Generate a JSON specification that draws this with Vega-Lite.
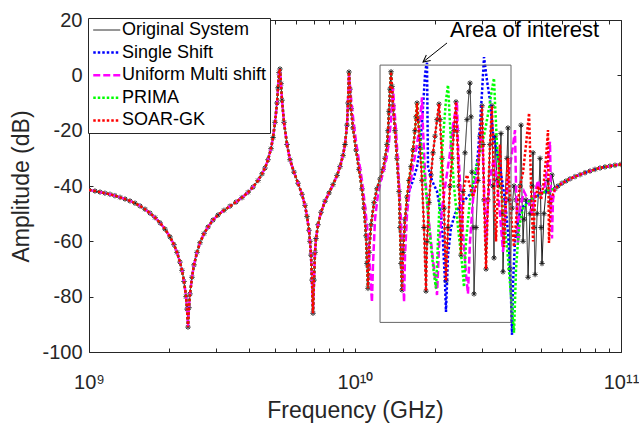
{
  "$schema": "https://vega.github.io/schema/vega-lite/v6.json",
  "width": 532,
  "height": 332,
  "autosize": {"type": "none"},
  "padding": {"left": 89, "top": 20, "right": 18, "bottom": 73},
  "background": "white",
  "config": {
    "view": {"stroke": null},
    "font": "Liberation Sans",
    "axis": {
      "labelFont": "Liberation Sans",
      "titleFont": "Liberation Sans",
      "labelFontSize": 20,
      "titleFontSize": 23,
      "titleFontWeight": "normal",
      "labelColor": "#262626",
      "titleColor": "#262626",
      "domainColor": "#262626",
      "tickColor": "#262626",
      "domainWidth": 1,
      "tickWidth": 1,
      "tickSize": -4,
      "grid": false,
      "labelFlush": false,
      "labelOverlap": false
    }
  },
  "data": {
    "values": [
      {"f": 1e9, "db": -41.4, "m": ["O","S","U","P","R"]},
      {"f": 1.053e9, "db": -41.8, "m": ["O","S","U","P","R"]},
      {"f": 1.1e9, "db": -42.2, "m": ["O","S","U","P","R"]},
      {"f": 1.148e9, "db": -42.6, "m": ["O","S","U","P","R"]},
      {"f": 1.199e9, "db": -43, "m": ["O","S","U","P","R"]},
      {"f": 1.252e9, "db": -43.5, "m": ["O","S","U","P","R"]},
      {"f": 1.308e9, "db": -44.1, "m": ["O","S","U","P","R"]},
      {"f": 1.366e9, "db": -44.7, "m": ["O","S","U","P","R"]},
      {"f": 1.426e9, "db": -45.4, "m": ["O","S","U","P","R"]},
      {"f": 1.489e9, "db": -46.2, "m": ["O","S","U","P","R"]},
      {"f": 1.555e9, "db": -47.2, "m": ["O","S","U","P","R"]},
      {"f": 1.624e9, "db": -48.4, "m": ["O","S","U","P","R"]},
      {"f": 1.695e9, "db": -49.8, "m": ["O","S","U","P","R"]},
      {"f": 1.771e9, "db": -51.4, "m": ["O","S","U","P","R"]},
      {"f": 1.849e9, "db": -53.3, "m": ["O","S","U","P","R"]},
      {"f": 1.931e9, "db": -55.6, "m": ["O","S","U","P","R"]},
      {"f": 2.016e9, "db": -58.4, "m": ["O","S","U","P","R"]},
      {"f": 2.087e9, "db": -61.2, "m": ["O","S","U","P","R"]},
      {"f": 2.142e9, "db": -64, "m": ["O","S","U","P","R"]},
      {"f": 2.198e9, "db": -67.5, "m": ["O","S","U","P","R"]},
      {"f": 2.237e9, "db": -70.5, "m": ["O","S","U","P","R"]},
      {"f": 2.276e9, "db": -74.5, "m": ["O","S","U","P","R"]},
      {"f": 2.316e9, "db": -80, "m": ["O","S","U","P","R"]},
      {"f": 2.336e9, "db": -84.5, "m": ["O","S","U","P","R"]},
      {"f": 2.356e9, "db": -91, "m": ["O","S","U","P","R"]},
      {"f": 2.376e9, "db": -84, "m": ["O","S","U","P","R"]},
      {"f": 2.397e9, "db": -79, "m": ["O","S","U","P","R"]},
      {"f": 2.439e9, "db": -73, "m": ["O","S","U","P","R"]},
      {"f": 2.482e9, "db": -68.5, "m": ["O","S","U","P","R"]},
      {"f": 2.547e9, "db": -64, "m": ["O","S","U","P","R"]},
      {"f": 2.614e9, "db": -60.5, "m": ["O","S","U","P","R"]},
      {"f": 2.706e9, "db": -57.2, "m": ["O","S","U","P","R"]},
      {"f": 2.802e9, "db": -54.8, "m": ["O","S","U","P","R"]},
      {"f": 2.925e9, "db": -52.3, "m": ["O","S","U","P","R"]},
      {"f": 3.054e9, "db": -50.5, "m": ["O","S","U","P","R"]},
      {"f": 3.217e9, "db": -48.8, "m": ["O","S","U","P","R"]},
      {"f": 3.389e9, "db": -47.3, "m": ["O","S","U","P","R"]},
      {"f": 3.57e9, "db": -45.8, "m": ["O","S","U","P","R"]},
      {"f": 3.76e9, "db": -44.2, "m": ["O","S","U","P","R"]},
      {"f": 3.961e9, "db": -42.3, "m": ["O","S","U","P","R"]},
      {"f": 4.136e9, "db": -40.4, "m": ["O","S","U","P","R"]},
      {"f": 4.319e9, "db": -38, "m": ["O","S","U","P","R"]},
      {"f": 4.472e9, "db": -35.6, "m": ["O","S","U","P","R"]},
      {"f": 4.589e9, "db": -33.5, "m": ["O","S","U","P","R"]},
      {"f": 4.71e9, "db": -30.5, "m": ["O","S","U","P","R"]},
      {"f": 4.833e9, "db": -26.5, "m": ["O","S","U","P","R"]},
      {"f": 4.918e9, "db": -22.5, "m": ["O","S","U","P","R"]},
      {"f": 5.004e9, "db": -17, "m": ["O","S","U","P","R"]},
      {"f": 5.091e9, "db": -10, "m": ["O","S","U","P","R"]},
      {"f": 5.135e9, "db": -4.5, "m": ["O","S","U","P","R"]},
      {"f": 5.18e9, "db": 1, "m": ["O","S","U","P","R"]},
      {"f": 5.224e9, "db": 2.3, "m": ["O","S","U","P","R"]},
      {"f": 5.27e9, "db": -3, "m": ["O","S","U","P","R"]},
      {"f": 5.316e9, "db": -9, "m": ["O","S","U","P","R"]},
      {"f": 5.409e9, "db": -17, "m": ["O","S","U","P","R"]},
      {"f": 5.552e9, "db": -25, "m": ["O","S","U","P","R"]},
      {"f": 5.696e9, "db": -30.5, "m": ["O","S","U","P","R"]},
      {"f": 5.897e9, "db": -35, "m": ["O","S","U","P","R"]},
      {"f": 6.105e9, "db": -39, "m": ["O","S","U","P","R"]},
      {"f": 6.321e9, "db": -43, "m": ["O","S","U","P","R"]},
      {"f": 6.486e9, "db": -47, "m": ["O","S","U","P","R"]},
      {"f": 6.6e9, "db": -51, "m": ["O","S","U","P","R"]},
      {"f": 6.715e9, "db": -56, "m": ["O","S","U","P","R"]},
      {"f": 6.773e9, "db": -60, "m": ["O","S","U","P","R"]},
      {"f": 6.832e9, "db": -65, "m": ["O","S","U","P","R"]},
      {"f": 6.891e9, "db": -74, "m": ["O","S","U","P","R"]},
      {"f": 6.951e9, "db": -86, "m": ["O","S","U","P","R"]},
      {"f": 7.013e9, "db": -74, "m": ["O","S","U","P","R"]},
      {"f": 7.074e9, "db": -64, "m": ["O","S","U","P","R"]},
      {"f": 7.135e9, "db": -59, "m": ["O","S","U","P","R"]},
      {"f": 7.26e9, "db": -54, "m": ["O","S","U","P","R"]},
      {"f": 7.451e9, "db": -49.5, "m": ["O","S","U","P","R"]},
      {"f": 7.716e9, "db": -45.5, "m": ["O","S","U","P","R"]},
      {"f": 7.985e9, "db": -42.5, "m": ["O","S","U","P","R"]},
      {"f": 8.266e9, "db": -39.5, "m": ["O","S","U","P","R"]},
      {"f": 8.557e9, "db": -36.2, "m": ["O","S","U","P","R"]},
      {"f": 8.782e9, "db": -33, "m": ["O","S","U","P","R"]},
      {"f": 9.013e9, "db": -29, "m": ["O","S","U","P","R"]},
      {"f": 9.171e9, "db": -25, "m": ["O","S","U","P","R"]},
      {"f": 9.331e9, "db": -18, "m": ["O","S","U","P","R"]},

      {"f": 9.412e9, "db": -10, "m": ["O","S","P","R"]},
      {"f": 9.494e9, "db": 1.2, "m": ["O","S","P","R"]},
      {"f": 9.576e9, "db": -5, "m": ["O","S","P","R"]},
      {"f": 9.66e9, "db": -12, "m": ["O","S","P","R"]},
      {"f": 9.828e9, "db": -19, "m": ["O","S","P","R"]},
      {"f": 1.009e10, "db": -27, "m": ["O","S","P","R"]},
      {"f": 1.035e10, "db": -34, "m": ["O","S","P","R"]},
      {"f": 1.062e10, "db": -41, "m": ["O","S","P","R"]},
      {"f": 1.081e10, "db": -48, "m": ["O","S","P","R"]},
      {"f": 1.1e10, "db": -58, "m": ["O","S","P","R"]},
      {"f": 1.109e10, "db": -68, "m": ["O","S","P","R"]},
      {"f": 1.119e10, "db": -77, "m": ["O","S","P","R"]},
      {"f": 1.129e10, "db": -64, "m": ["O","S","P","R"]},
      {"f": 1.149e10, "db": -54, "m": ["O","S","P","R"]},
      {"f": 1.179e10, "db": -46, "m": ["O","S","P","R"]},
      {"f": 1.209e10, "db": -41, "m": ["O","S","P","R"]},
      {"f": 1.242e10, "db": -37.5, "m": ["O","S","P","R"]},
      {"f": 1.274e10, "db": -34, "m": ["O","S","P","R"]},
      {"f": 1.297e10, "db": -30, "m": ["O","S","P","R"]},
      {"f": 1.319e10, "db": -25, "m": ["O","S","P","R"]},
      {"f": 1.331e10, "db": -20, "m": ["O","S","P","R"]},
      {"f": 1.342e10, "db": -13, "m": ["O","S","P","R"]},
      {"f": 1.354e10, "db": -5, "m": ["O","S","P","R"]},
      {"f": 1.366e10, "db": 1.3, "m": ["O","S","P","R"]},
      {"f": 1.378e10, "db": -4, "m": ["O","S","P","R"]},
      {"f": 1.39e10, "db": -11, "m": ["O","S","P","R"]},
      {"f": 1.414e10, "db": -20, "m": ["O","S","P","R"]},
      {"f": 1.438e10, "db": -30, "m": ["O","S","P","R"]},
      {"f": 1.464e10, "db": -42, "m": ["O","S","P","R"]},
      {"f": 1.476e10, "db": -55, "m": ["O","S","P","R"]},
      {"f": 1.489e10, "db": -68, "m": ["O","S","P","R"]},
      {"f": 1.502e10, "db": -77.6, "m": ["O","S","P","R"]},
      {"f": 1.515e10, "db": -64, "m": ["O","S","P","R"]},
      {"f": 1.542e10, "db": -52, "m": ["O","S","P","R"]},

      {"f": 1.569e10, "db": -44, "m": ["O","P","R"]},
      {"f": 1.596e10, "db": -38, "m": ["O","P","R"]},
      {"f": 1.624e10, "db": -33, "m": ["O","P","R"]},
      {"f": 1.652e10, "db": -27, "m": ["O","P","R"]},
      {"f": 1.681e10, "db": -20, "m": ["O","P","R"]},
      {"f": 1.696e10, "db": -15, "m": ["O","P","R"]},
      {"f": 1.711e10, "db": -10, "m": ["O","P","R"]},

      {"f": 1.725e10, "db": -16, "m": ["O","R"]},
      {"f": 1.756e10, "db": -26, "m": ["O","R"]},
      {"f": 1.786e10, "db": -38, "m": ["O","R"]},
      {"f": 1.817e10, "db": -55, "m": ["O","R"]},
      {"f": 1.849e10, "db": -78, "m": ["O","R"]},
      {"f": 1.865e10, "db": -60, "m": ["O","R"]},
      {"f": 1.897e10, "db": -46, "m": ["O","R"]},
      {"f": 1.931e10, "db": -36, "m": ["O","R"]},
      {"f": 1.965e10, "db": -28, "m": ["O","R"]},
      {"f": 1.999e10, "db": -22, "m": ["O","R"]},
      {"f": 2.034e10, "db": -16, "m": ["O","R"]},
      {"f": 2.069e10, "db": -10.4, "m": ["O","R"]},
      {"f": 2.087e10, "db": -16, "m": ["O","R"]},
      {"f": 2.124e10, "db": -30, "m": ["O","R"]},
      {"f": 2.161e10, "db": -48, "m": ["O","R"]},
      {"f": 2.198e10, "db": -74.3, "m": ["O","R"]},
      {"f": 2.237e10, "db": -55, "m": ["O","R"]},
      {"f": 2.276e10, "db": -40, "m": ["O","R"]},
      {"f": 2.316e10, "db": -30, "m": ["O","R"]},
      {"f": 2.356e10, "db": -20, "m": ["O","R"]},
      {"f": 2.397e10, "db": -9.6, "m": ["O","R"]},
      {"f": 2.418e10, "db": -20, "m": ["O","R"]},
      {"f": 2.46e10, "db": -40, "m": ["O","R"]},
      {"f": 2.503e10, "db": -65, "m": ["O","R"]},

      {"f": 2.547e10, "db": -42, "m": ["O"]},
      {"f": 2.591e10, "db": -28, "m": ["O"]},
      {"f": 2.637e10, "db": -16, "m": ["O"]},
      {"f": 2.683e10, "db": -6, "m": ["O"]},
      {"f": 2.706e10, "db": -2.8, "m": ["O"]},
      {"f": 2.73e10, "db": -15, "m": ["O"]},
      {"f": 2.753e10, "db": -35, "m": ["O"]},
      {"f": 2.777e10, "db": -55, "m": ["O"]},
      {"f": 2.802e10, "db": -79, "m": ["O"]},
      {"f": 2.851e10, "db": -55, "m": ["O"]},

      {"f": 2.569e10, "db": -40, "m": ["R"]},
      {"f": 2.637e10, "db": -36, "m": ["R"]},
      {"f": 2.706e10, "db": -40, "m": ["R"]},
      {"f": 2.777e10, "db": -44, "m": ["R"]},
      {"f": 2.851e10, "db": -40, "m": ["R"]},

      {"f": 2.9e10, "db": -38, "m": ["O","R"]},
      {"f": 2.951e10, "db": -22, "m": ["O","R"]},
      {"f": 3.003e10, "db": -11, "m": ["O","R"]},
      {"f": 3.029e10, "db": -25, "m": ["O","R"]},
      {"f": 3.055e10, "db": -45, "m": ["O","R"]},
      {"f": 3.109e10, "db": -70, "m": ["O","R"]},
      {"f": 3.162e10, "db": -45, "m": ["O","R"]},
      {"f": 3.217e10, "db": -25, "m": ["O","R"]},
      {"f": 3.273e10, "db": -11, "m": ["O","R"]},

      {"f": 3.302e10, "db": -40, "m": ["O"]},
      {"f": 3.331e10, "db": -66, "m": ["O"]},
      {"f": 3.36e10, "db": -22, "m": ["O"]},
      {"f": 3.418e10, "db": -38, "m": ["O"]},
      {"f": 3.478e10, "db": -40, "m": ["O"]},
      {"f": 3.539e10, "db": -21, "m": ["O"]},
      {"f": 3.569e10, "db": -50, "m": ["O"]},
      {"f": 3.601e10, "db": -71, "m": ["O"]},
      {"f": 3.664e10, "db": -45, "m": ["O"]},
      {"f": 3.728e10, "db": -30, "m": ["O"]},
      {"f": 3.76e10, "db": -19, "m": ["O"]},
      {"f": 3.793e10, "db": -45, "m": ["O"]},
      {"f": 3.826e10, "db": -70, "m": ["O"]},
      {"f": 3.893e10, "db": -48, "m": ["O"]},
      {"f": 3.961e10, "db": -40, "m": ["O"]},
      {"f": 4.03e10, "db": -45, "m": ["O"]},
      {"f": 4.101e10, "db": -58, "m": ["O"]},
      {"f": 4.173e10, "db": -40, "m": ["O"]},
      {"f": 4.209e10, "db": -18, "m": ["O"]},
      {"f": 4.246e10, "db": -45, "m": ["O"]},
      {"f": 4.283e10, "db": -60, "m": ["O"]},
      {"f": 4.32e10, "db": -52, "m": ["O"]},
      {"f": 4.396e10, "db": -45, "m": ["O"]},
      {"f": 4.473e10, "db": -73, "m": ["O"]},
      {"f": 4.551e10, "db": -50, "m": ["O"]},
      {"f": 4.631e10, "db": -40, "m": ["O"]},
      {"f": 4.671e10, "db": -28, "m": ["O"]},
      {"f": 4.712e10, "db": -55, "m": ["O"]},
      {"f": 4.753e10, "db": -72, "m": ["O"]},
      {"f": 4.836e10, "db": -50, "m": ["O"]},
      {"f": 4.92e10, "db": -40, "m": ["O"]},
      {"f": 4.963e10, "db": -30, "m": ["O"]},
      {"f": 5.005e10, "db": -55, "m": ["O"]},
      {"f": 5.047e10, "db": -68, "m": ["O"]},
      {"f": 5.135e10, "db": -50, "m": ["O"]},
      {"f": 5.224e10, "db": -42, "m": ["O"]},
      {"f": 5.315e10, "db": -38, "m": ["O"]},
      {"f": 5.408e10, "db": -46, "m": ["O"]},
      {"f": 5.502e10, "db": -36, "m": ["O"]},

      {"f": 1.596e10, "db": -42, "m": ["S"]},
      {"f": 1.652e10, "db": -38, "m": ["S"]},
      {"f": 1.711e10, "db": -33, "m": ["S"]},
      {"f": 1.756e10, "db": -26, "m": ["S"]},
      {"f": 1.786e10, "db": -17, "m": ["S"]},
      {"f": 1.817e10, "db": -6, "m": ["S"]},
      {"f": 1.833e10, "db": 0, "m": ["S"]},
      {"f": 1.849e10, "db": 3, "m": ["S"]},
      {"f": 1.865e10, "db": 4.5, "m": ["S"]},
      {"f": 1.881e10, "db": -33, "m": ["S"]},
      {"f": 1.947e10, "db": -38, "m": ["S"]},
      {"f": 2.034e10, "db": -42, "m": ["S"]},
      {"f": 2.105e10, "db": -50, "m": ["S"]},
      {"f": 2.142e10, "db": -60, "m": ["S"]},
      {"f": 2.18e10, "db": -75, "m": ["S"]},
      {"f": 2.198e10, "db": -85.5, "m": ["S"]},
      {"f": 2.237e10, "db": -65, "m": ["S"]},
      {"f": 2.296e10, "db": -55, "m": ["S"]},
      {"f": 2.377e10, "db": -50, "m": ["S"]},
      {"f": 2.481e10, "db": -47, "m": ["S"]},
      {"f": 2.591e10, "db": -45, "m": ["S"]},
      {"f": 2.706e10, "db": -43, "m": ["S"]},
      {"f": 2.826e10, "db": -38, "m": ["S"]},
      {"f": 2.9e10, "db": -28, "m": ["S"]},
      {"f": 2.951e10, "db": -18, "m": ["S"]},
      {"f": 3.003e10, "db": -6, "m": ["S"]},
      {"f": 3.055e10, "db": 6.6, "m": ["S"]},
      {"f": 3.136e10, "db": -2, "m": ["S"]},
      {"f": 3.217e10, "db": -9, "m": ["S"]},
      {"f": 3.302e10, "db": -21, "m": ["S"]},
      {"f": 3.418e10, "db": -28, "m": ["S"]},
      {"f": 3.508e10, "db": -33, "m": ["S"]},
      {"f": 3.664e10, "db": -45, "m": ["S"]},
      {"f": 3.76e10, "db": -57, "m": ["S"]},
      {"f": 3.826e10, "db": -69, "m": ["S"]},
      {"f": 3.859e10, "db": -80, "m": ["S"]},
      {"f": 3.893e10, "db": -93.8, "m": ["S"]},
      {"f": 3.927e10, "db": -75, "m": ["S"]},
      {"f": 3.995e10, "db": -60, "m": ["S"]},
      {"f": 4.101e10, "db": -52, "m": ["S"]},
      {"f": 4.246e10, "db": -48, "m": ["S"]},
      {"f": 4.434e10, "db": -46, "m": ["S"]},
      {"f": 4.671e10, "db": -44.5, "m": ["S"]},
      {"f": 4.963e10, "db": -43, "m": ["S"]},
      {"f": 5.27e10, "db": -42, "m": ["S"]},

      {"f": 1.74e10, "db": -18, "m": ["P"]},
      {"f": 1.786e10, "db": -28, "m": ["P"]},
      {"f": 1.833e10, "db": -38, "m": ["P"]},
      {"f": 1.881e10, "db": -50, "m": ["P"]},
      {"f": 1.931e10, "db": -62, "m": ["P"]},
      {"f": 1.982e10, "db": -72, "m": ["P"]},
      {"f": 2.016e10, "db": -77, "m": ["P"]},
      {"f": 2.051e10, "db": -60, "m": ["P"]},
      {"f": 2.087e10, "db": -42, "m": ["P"]},
      {"f": 2.124e10, "db": -28, "m": ["P"]},
      {"f": 2.161e10, "db": -18, "m": ["P"]},
      {"f": 2.198e10, "db": -9, "m": ["P"]},
      {"f": 2.237e10, "db": -3.5, "m": ["P"]},
      {"f": 2.256e10, "db": -10, "m": ["P"]},
      {"f": 2.296e10, "db": -25, "m": ["P"]},
      {"f": 2.356e10, "db": -40, "m": ["P"]},
      {"f": 2.439e10, "db": -55, "m": ["P"]},
      {"f": 2.525e10, "db": -68, "m": ["P"]},
      {"f": 2.569e10, "db": -76.5, "m": ["P"]},
      {"f": 2.614e10, "db": -60, "m": ["P"]},
      {"f": 2.706e10, "db": -45, "m": ["P"]},
      {"f": 2.826e10, "db": -35, "m": ["P"]},
      {"f": 2.951e10, "db": -28, "m": ["P"]},
      {"f": 3.082e10, "db": -20, "m": ["P"]},
      {"f": 3.19e10, "db": -12, "m": ["P"]},
      {"f": 3.273e10, "db": -5, "m": ["P"]},
      {"f": 3.331e10, "db": -1, "m": ["P"]},
      {"f": 3.36e10, "db": -10, "m": ["P"]},
      {"f": 3.418e10, "db": -25, "m": ["P"]},
      {"f": 3.508e10, "db": -38, "m": ["P"]},
      {"f": 3.632e10, "db": -52, "m": ["P"]},
      {"f": 3.76e10, "db": -66, "m": ["P"]},
      {"f": 3.859e10, "db": -80, "m": ["P"]},
      {"f": 3.961e10, "db": -93, "m": ["P"]},
      {"f": 4.03e10, "db": -70, "m": ["P"]},
      {"f": 4.136e10, "db": -55, "m": ["P"]},
      {"f": 4.283e10, "db": -48, "m": ["P"]},
      {"f": 4.551e10, "db": -45, "m": ["P"]},
      {"f": 4.963e10, "db": -43, "m": ["P"]},
      {"f": 5.315e10, "db": -41.5, "m": ["P"]},

      {"f": 9.494e9, "db": 0.5, "m": ["U"]},
      {"f": 9.66e9, "db": -8, "m": ["U"]},
      {"f": 9.828e9, "db": -15, "m": ["U"]},
      {"f": 1.009e10, "db": -24, "m": ["U"]},
      {"f": 1.035e10, "db": -31, "m": ["U"]},
      {"f": 1.062e10, "db": -38, "m": ["U"]},
      {"f": 1.09e10, "db": -47, "m": ["U"]},
      {"f": 1.119e10, "db": -58, "m": ["U"]},
      {"f": 1.138e10, "db": -70, "m": ["U"]},
      {"f": 1.158e10, "db": -82, "m": ["U"]},
      {"f": 1.169e10, "db": -68, "m": ["U"]},
      {"f": 1.189e10, "db": -52, "m": ["U"]},
      {"f": 1.22e10, "db": -43, "m": ["U"]},
      {"f": 1.252e10, "db": -38, "m": ["U"]},
      {"f": 1.285e10, "db": -34, "m": ["U"]},
      {"f": 1.319e10, "db": -29, "m": ["U"]},
      {"f": 1.342e10, "db": -24, "m": ["U"]},
      {"f": 1.366e10, "db": -16, "m": ["U"]},
      {"f": 1.39e10, "db": -4.6, "m": ["U"]},
      {"f": 1.401e10, "db": -10, "m": ["U"]},
      {"f": 1.426e10, "db": -20, "m": ["U"]},
      {"f": 1.451e10, "db": -32, "m": ["U"]},
      {"f": 1.476e10, "db": -45, "m": ["U"]},
      {"f": 1.502e10, "db": -60, "m": ["U"]},
      {"f": 1.529e10, "db": -82, "m": ["U"]},
      {"f": 1.542e10, "db": -65, "m": ["U"]},
      {"f": 1.569e10, "db": -50, "m": ["U"]},
      {"f": 1.61e10, "db": -40, "m": ["U"]},
      {"f": 1.652e10, "db": -33, "m": ["U"]},
      {"f": 1.696e10, "db": -27, "m": ["U"]},
      {"f": 1.74e10, "db": -20, "m": ["U"]},
      {"f": 1.786e10, "db": -8, "m": ["U"]},
      {"f": 1.802e10, "db": -20, "m": ["U"]},
      {"f": 1.833e10, "db": -35, "m": ["U"]},
      {"f": 1.881e10, "db": -50, "m": ["U"]},
      {"f": 1.931e10, "db": -60, "m": ["U"]},
      {"f": 1.982e10, "db": -70, "m": ["U"]},
      {"f": 2.034e10, "db": -79.4, "m": ["U"]},
      {"f": 2.069e10, "db": -62, "m": ["U"]},
      {"f": 2.124e10, "db": -48, "m": ["U"]},
      {"f": 2.198e10, "db": -38, "m": ["U"]},
      {"f": 2.276e10, "db": -28, "m": ["U"]},
      {"f": 2.336e10, "db": -18, "m": ["U"]},
      {"f": 2.418e10, "db": -9.6, "m": ["U"]},
      {"f": 2.439e10, "db": -25, "m": ["U"]},
      {"f": 2.503e10, "db": -45, "m": ["U"]},
      {"f": 2.569e10, "db": -62, "m": ["U"]},
      {"f": 2.614e10, "db": -72, "m": ["U"]},
      {"f": 2.659e10, "db": -79, "m": ["U"]},
      {"f": 2.706e10, "db": -60, "m": ["U"]},
      {"f": 2.777e10, "db": -45, "m": ["U"]},
      {"f": 2.875e10, "db": -35, "m": ["U"]},
      {"f": 2.951e10, "db": -25, "m": ["U"]},
      {"f": 3.003e10, "db": -20, "m": ["U"]},
      {"f": 3.055e10, "db": -40, "m": ["U"]},
      {"f": 3.109e10, "db": -60, "m": ["U"]},
      {"f": 3.162e10, "db": -45, "m": ["U"]},
      {"f": 3.245e10, "db": -35, "m": ["U"]},
      {"f": 3.331e10, "db": -30, "m": ["U"]},
      {"f": 3.418e10, "db": -38, "m": ["U"]},
      {"f": 3.508e10, "db": -50, "m": ["U"]},
      {"f": 3.601e10, "db": -63.8, "m": ["U"]},
      {"f": 3.696e10, "db": -45, "m": ["U"]},
      {"f": 3.793e10, "db": -35, "m": ["U"]},
      {"f": 3.893e10, "db": -28, "m": ["U"]},
      {"f": 3.995e10, "db": -19.8, "m": ["U"]},
      {"f": 4.03e10, "db": -40, "m": ["U"]},
      {"f": 4.101e10, "db": -61, "m": ["U"]},
      {"f": 4.173e10, "db": -48, "m": ["U"]},
      {"f": 4.32e10, "db": -42, "m": ["U"]},
      {"f": 4.473e10, "db": -45, "m": ["U"]},
      {"f": 4.631e10, "db": -50, "m": ["U"]},
      {"f": 4.753e10, "db": -42, "m": ["U"]},
      {"f": 4.878e10, "db": -38, "m": ["U"]},
      {"f": 5.005e10, "db": -43, "m": ["U"]},
      {"f": 5.179e10, "db": -40, "m": ["U"]},
      {"f": 5.315e10, "db": -30, "m": ["U"]},
      {"f": 5.408e10, "db": -24, "m": ["U"]},
      {"f": 5.455e10, "db": -45, "m": ["U"]},
      {"f": 5.502e10, "db": -59, "m": ["U"]},
      {"f": 5.55e10, "db": -45, "m": ["U"]},

      {"f": 3.331e10, "db": -40, "m": ["R"]},
      {"f": 3.389e10, "db": -60, "m": ["R"]},
      {"f": 3.448e10, "db": -40, "m": ["R"]},
      {"f": 3.508e10, "db": -25, "m": ["R"]},
      {"f": 3.569e10, "db": -45, "m": ["R"]},
      {"f": 3.632e10, "db": -62, "m": ["R"]},
      {"f": 3.696e10, "db": -45, "m": ["R"]},
      {"f": 3.76e10, "db": -30, "m": ["R"]},
      {"f": 3.859e10, "db": -50, "m": ["R"]},
      {"f": 3.961e10, "db": -62, "m": ["R"]},
      {"f": 4.065e10, "db": -48, "m": ["R"]},
      {"f": 4.173e10, "db": -40, "m": ["R"]},
      {"f": 4.283e10, "db": -35, "m": ["R"]},
      {"f": 4.396e10, "db": -25, "m": ["R"]},
      {"f": 4.512e10, "db": -13.6, "m": ["R"]},
      {"f": 4.591e10, "db": -40, "m": ["R"]},
      {"f": 4.671e10, "db": -60, "m": ["R"]},
      {"f": 4.753e10, "db": -45, "m": ["R"]},
      {"f": 4.878e10, "db": -40, "m": ["R"]},
      {"f": 5.005e10, "db": -45, "m": ["R"]},
      {"f": 5.135e10, "db": -38, "m": ["R"]},
      {"f": 5.224e10, "db": -30, "m": ["R"]},
      {"f": 5.315e10, "db": -19.8, "m": ["R"]},
      {"f": 5.361e10, "db": -60.6, "m": ["R"]},
      {"f": 5.455e10, "db": -45, "m": ["R"]},

      {"f": 5.648e10, "db": -41, "m": ["O","S","U","P","R"]},
      {"f": 5.799e10, "db": -40, "m": ["O","S","U","P","R"]},
      {"f": 6.0e10, "db": -39, "m": ["O","S","U","P","R"]},
      {"f": 6.213e10, "db": -38.2, "m": ["O","S","U","P","R"]},
      {"f": 6.432e10, "db": -37.4, "m": ["O","S","U","P","R"]},
      {"f": 6.715e10, "db": -36.6, "m": ["O","S","U","P","R"]},
      {"f": 7.015e10, "db": -35.9, "m": ["O","S","U","P","R"]},
      {"f": 7.323e10, "db": -35.2, "m": ["O","S","U","P","R"]},
      {"f": 7.647e10, "db": -34.6, "m": ["O","S","U","P","R"]},
      {"f": 7.986e10, "db": -34, "m": ["O","S","U","P","R"]},
      {"f": 8.339e10, "db": -33.5, "m": ["O","S","U","P","R"]},
      {"f": 8.706e10, "db": -33.1, "m": ["O","S","U","P","R"]},
      {"f": 9.091e10, "db": -32.8, "m": ["O","S","U","P","R"]},
      {"f": 9.493e10, "db": -32.5, "m": ["O","S","U","P","R"]},
      {"f": 1e11, "db": -32.2, "m": ["O","S","U","P","R"]}
    ]
  },
  "layer": [
    {
      "transform": [{"flatten": ["m"]}, {"filter": "datum.m == 'O'"}],
      "mark": {"type": "line", "clip": true, "strokeCap": "butt"},
      "encoding": {
        "x": {
          "field": "f", "type": "quantitative",
          "scale": {"type": "log", "domain": [1e9, 1e11], "nice": false},
          "axis": {
            "orient": "bottom",
            "values": [1e9, 2e9, 3e9, 4e9, 5e9, 6e9, 7e9, 8e9, 9e9, 1e10, 2e10, 3e10, 4e10, 5e10, 6e10, 7e10, 8e10, 9e10, 1e11],
            "labelExpr": "datum.value == 1e9 ? '10⁹' : datum.value == 1e10 ? '10¹⁰' : datum.value == 1e11 ? '10¹¹' : ''",
            "labelPadding": 24,
            "title": "Frequency (GHz)",
            "titlePadding": 7
          }
        },
        "y": {
          "field": "db", "type": "quantitative",
          "scale": {"domain": [-100, 20], "nice": false, "zero": false},
          "axis": {
            "orient": "left",
            "values": [-100, -80, -60, -40, -20, 0, 20],
            "labelExpr": "(datum.value < 0 ? '-' : '') + abs(datum.value)",
            "labelPadding": 11,
            "title": "Amplitude (dB)",
            "titlePadding": 8
          }
        },
        "color": {
          "field": "m", "type": "nominal",
          "scale": {"domain": ["O", "S", "U", "P", "R"], "range": ["#1a1a1a", "#0000ff", "#ff00ff", "#00ff00", "#ff0000"]},
          "legend": {
            "title": null, "orient": "none", "legendX": -1, "legendY": -2,
            "symbolType": "M-1,0H3", "symbolSize": 182, "symbolFillColor": "transparent",
            "labelFont": "Liberation Sans", "labelFontSize": 18, "labelColor": "#000000", "labelLimit": 400,
            "labelOffset": 13, "padding": 3, "rowPadding": 4.6,
            "strokeColor": "#262626", "fillColor": "#ffffff",
            "labelExpr": "datum.value == 'O' ? '\u2005Original System' : datum.value == 'S' ? '\u2005\u2005Single Shift' : datum.value == 'U' ? '\u2005Uniform Multi shift' : datum.value == 'P' ? 'PRIMA' : 'SOAR-GK'"
          }
        },
        "strokeDash": {
          "field": "m", "type": "nominal",
          "scale": {"domain": ["O", "S", "U", "P", "R"], "range": [[1, 0], [2.5, 2], [7, 3], [2.5, 2], [2.5, 2]]},
          "legend": {
            "title": null, "orient": "none", "legendX": -1, "legendY": -2,
            "symbolType": "M-1,0H3", "symbolSize": 182,
            "labelFontSize": 18, "labelLimit": 400, "labelOffset": 13, "padding": 3, "rowPadding": 4.6,
            "labelExpr": "datum.value == 'O' ? '\u2005Original System' : datum.value == 'S' ? '\u2005\u2005Single Shift' : datum.value == 'U' ? '\u2005Uniform Multi shift' : datum.value == 'P' ? 'PRIMA' : 'SOAR-GK'"
          }
        },
        "strokeWidth": {
          "field": "m", "type": "nominal",
          "scale": {"type": "ordinal", "domain": ["O", "S", "U", "P", "R"], "range": [1, 2.5, 2.5, 2.5, 2.5]},
          "legend": {
            "title": null, "orient": "none", "legendX": -1, "legendY": -2,
            "symbolType": "M-1,0H3", "symbolSize": 182,
            "labelFontSize": 18, "labelLimit": 400, "labelOffset": 13, "padding": 3, "rowPadding": 4.6,
            "labelExpr": "datum.value == 'O' ? '\u2005Original System' : datum.value == 'S' ? '\u2005\u2005Single Shift' : datum.value == 'U' ? '\u2005Uniform Multi shift' : datum.value == 'P' ? 'PRIMA' : 'SOAR-GK'"
          }
        }
      }
    },
    {
      "transform": [{"flatten": ["m"]}, {"filter": "datum.m == 'O'"}],
      "mark": {"type": "point", "shape": "M-1,0H1M0,-1V1M-0.7,-0.7L0.7,0.7M-0.7,0.7L0.7,-0.7", "size": 30, "filled": false, "stroke": "#1a1a1a", "strokeWidth": 0.9, "opacity": 1, "clip": true},
      "encoding": {
        "x": {"field": "f", "type": "quantitative", "scale": {"type": "log", "domain": [1e9, 1e11], "nice": false}, "axis": null},
        "y": {"field": "db", "type": "quantitative", "scale": {"domain": [-100, 20], "nice": false, "zero": false}, "axis": null}
      }
    },
    {
      "transform": [{"flatten": ["m"]}, {"filter": "datum.m == 'S'"}],
      "mark": {"type": "line", "clip": true, "strokeCap": "butt"},
      "encoding": {
        "x": {
          "field": "f", "type": "quantitative",
          "scale": {"type": "log", "domain": [1e9, 1e11], "nice": false},
          "axis": {
            "orient": "top", "labels": false, "title": null,
            "values": [1e9, 2e9, 3e9, 4e9, 5e9, 6e9, 7e9, 8e9, 9e9, 1e10, 2e10, 3e10, 4e10, 5e10, 6e10, 7e10, 8e10, 9e10, 1e11]
          }
        },
        "y": {
          "field": "db", "type": "quantitative",
          "scale": {"domain": [-100, 20], "nice": false, "zero": false},
          "axis": {"orient": "right", "labels": false, "title": null, "values": [-100, -80, -60, -40, -20, 0, 20]}
        },
        "color": {"field": "m", "type": "nominal", "scale": {"domain": ["O", "S", "U", "P", "R"], "range": ["#1a1a1a", "#0000ff", "#ff00ff", "#00ff00", "#ff0000"]}},
        "strokeDash": {"field": "m", "type": "nominal", "scale": {"domain": ["O", "S", "U", "P", "R"], "range": [[1, 0], [2.5, 2], [7, 3], [2.5, 2], [2.5, 2]]}},
        "strokeWidth": {"field": "m", "type": "nominal", "scale": {"type": "ordinal", "domain": ["O", "S", "U", "P", "R"], "range": [1, 2.5, 2.5, 2.5, 2.5]}}
      }
    },
    {
      "transform": [{"flatten": ["m"]}, {"filter": "datum.m == 'U'"}],
      "mark": {"type": "line", "clip": true, "strokeCap": "butt"},
      "encoding": {
        "x": {"field": "f", "type": "quantitative", "scale": {"type": "log", "domain": [1e9, 1e11], "nice": false}, "axis": null},
        "y": {"field": "db", "type": "quantitative", "scale": {"domain": [-100, 20], "nice": false, "zero": false}, "axis": null},
        "color": {"field": "m", "type": "nominal", "scale": {"domain": ["O", "S", "U", "P", "R"], "range": ["#1a1a1a", "#0000ff", "#ff00ff", "#00ff00", "#ff0000"]}},
        "strokeDash": {"field": "m", "type": "nominal", "scale": {"domain": ["O", "S", "U", "P", "R"], "range": [[1, 0], [2.5, 2], [7, 3], [2.5, 2], [2.5, 2]]}},
        "strokeWidth": {"field": "m", "type": "nominal", "scale": {"type": "ordinal", "domain": ["O", "S", "U", "P", "R"], "range": [1, 2.5, 2.5, 2.5, 2.5]}}
      }
    },
    {
      "transform": [{"flatten": ["m"]}, {"filter": "datum.m == 'P'"}],
      "mark": {"type": "line", "clip": true, "strokeCap": "butt"},
      "encoding": {
        "x": {"field": "f", "type": "quantitative", "scale": {"type": "log", "domain": [1e9, 1e11], "nice": false}, "axis": null},
        "y": {"field": "db", "type": "quantitative", "scale": {"domain": [-100, 20], "nice": false, "zero": false}, "axis": null},
        "color": {"field": "m", "type": "nominal", "scale": {"domain": ["O", "S", "U", "P", "R"], "range": ["#1a1a1a", "#0000ff", "#ff00ff", "#00ff00", "#ff0000"]}},
        "strokeDash": {"field": "m", "type": "nominal", "scale": {"domain": ["O", "S", "U", "P", "R"], "range": [[1, 0], [2.5, 2], [7, 3], [2.5, 2], [2.5, 2]]}},
        "strokeWidth": {"field": "m", "type": "nominal", "scale": {"type": "ordinal", "domain": ["O", "S", "U", "P", "R"], "range": [1, 2.5, 2.5, 2.5, 2.5]}}
      }
    },
    {
      "transform": [{"flatten": ["m"]}, {"filter": "datum.m == 'R'"}],
      "mark": {"type": "line", "clip": true, "strokeCap": "butt"},
      "encoding": {
        "x": {"field": "f", "type": "quantitative", "scale": {"type": "log", "domain": [1e9, 1e11], "nice": false}, "axis": null},
        "y": {"field": "db", "type": "quantitative", "scale": {"domain": [-100, 20], "nice": false, "zero": false}, "axis": null},
        "color": {"field": "m", "type": "nominal", "scale": {"domain": ["O", "S", "U", "P", "R"], "range": ["#1a1a1a", "#0000ff", "#ff00ff", "#00ff00", "#ff0000"]}},
        "strokeDash": {"field": "m", "type": "nominal", "scale": {"domain": ["O", "S", "U", "P", "R"], "range": [[1, 0], [2.5, 2], [7, 3], [2.5, 2], [2.5, 2]]}},
        "strokeWidth": {"field": "m", "type": "nominal", "scale": {"type": "ordinal", "domain": ["O", "S", "U", "P", "R"], "range": [1, 2.5, 2.5, 2.5, 2.5]}}
      }
    },
    {
      "data": {"values": [{"f1": 1.242e10, "f2": 3.859e10, "d1": -89.3, "d2": 3.7}]},
      "mark": {"type": "rect", "fill": null, "fillOpacity": 0, "stroke": "#666666", "strokeWidth": 1},
      "encoding": {
        "x": {"field": "f1", "type": "quantitative", "scale": {"type": "log", "domain": [1e9, 1e11], "nice": false}, "axis": null},
        "x2": {"field": "f2"},
        "y": {"field": "d1", "type": "quantitative", "scale": {"domain": [-100, 20], "nice": false, "zero": false}, "axis": null},
        "y2": {"field": "d2"}
      }
    },
    {
      "data": {"values": [{"f1": 2.218e10, "d1": 11.7, "f2": 1.802e10, "d2": 4.8}]},
      "mark": {"type": "rule", "color": "#000000", "strokeWidth": 1},
      "encoding": {
        "x": {"field": "f1", "type": "quantitative", "scale": {"type": "log", "domain": [1e9, 1e11], "nice": false}, "axis": null},
        "x2": {"field": "f2"},
        "y": {"field": "d1", "type": "quantitative", "scale": {"domain": [-100, 20], "nice": false, "zero": false}, "axis": null},
        "y2": {"field": "d2"}
      }
    },
    {
      "data": {"values": [{"f2": 1.802e10, "d2": 4.8}]},
      "mark": {"type": "point", "shape": "M-0.5,1L0,0L0.5,1", "size": 196, "angle": 231.6, "filled": false, "stroke": "#000000", "strokeWidth": 1, "opacity": 1},
      "encoding": {
        "x": {"field": "f2", "type": "quantitative", "scale": {"type": "log", "domain": [1e9, 1e11], "nice": false}, "axis": null},
        "y": {"field": "d2", "type": "quantitative", "scale": {"domain": [-100, 20], "nice": false, "zero": false}, "axis": null}
      }
    },
    {
      "data": {"values": [{"f": 2.276e10, "db": 13.9, "label": "Area of interest"}]},
      "mark": {"type": "text", "align": "left", "baseline": "alphabetic", "font": "Liberation Sans", "fontSize": 22, "color": "#000000"},
      "encoding": {
        "x": {"field": "f", "type": "quantitative", "scale": {"type": "log", "domain": [1e9, 1e11], "nice": false}, "axis": null},
        "y": {"field": "db", "type": "quantitative", "scale": {"domain": [-100, 20], "nice": false, "zero": false}, "axis": null},
        "text": {"field": "label"}
      }
    }
  ],
  "resolve": {"axis": {"x": "independent", "y": "independent"}}
}
